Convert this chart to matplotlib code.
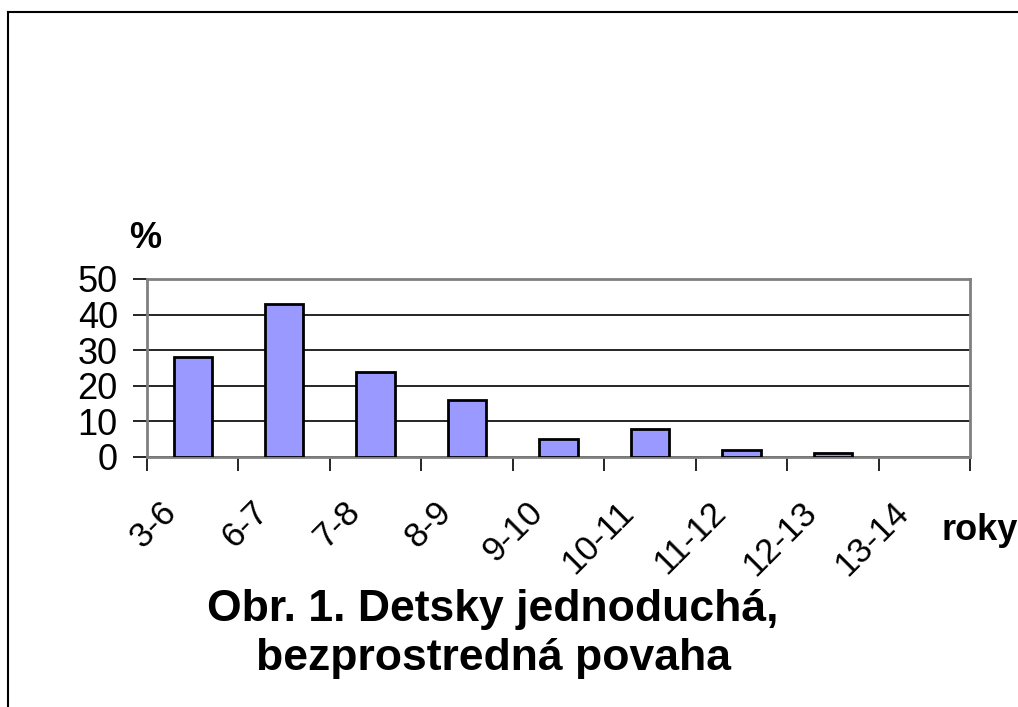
import matplotlib
matplotlib.use('Agg')
import matplotlib.pyplot as plt
import matplotlib.transforms as mtransforms
from matplotlib.lines import Line2D

plt.rcParams['font.family'] = ['Liberation Sans', 'DejaVu Sans']

categories = ['3-6', '6-7', '7-8', '8-9', '9-10', '10-11', '11-12', '12-13', '13-14']
values = [28, 43, 24, 16, 5, 8, 2, 1, 0]
yticks = [0, 10, 20, 30, 40, 50]

fig = plt.figure(figsize=(10.18, 7.07), dpi=100)
ax = fig.add_axes([147 / 1018, 1 - 457 / 707, (970 - 147) / 1018, (457 - 279) / 707])

x = list(range(len(categories)))
# zero-valued bars draw nothing, as in the original
edge_w = [2 if v > 0 else 0 for v in values]
ax.bar(x, values, width=0.42, color='#9999FF', edgecolor='black', linewidth=edge_w, zorder=3)

ax.set_xlim(-0.5, len(categories) - 0.5)
ax.set_ylim(0, 50)
ax.set_yticks(yticks)
ax.set_yticklabels([str(v) for v in yticks], fontsize=26)
ax.yaxis.grid(True, color='black', linewidth=1.2, zorder=1)

# boundary ticks, labels sit on minor ticks at category centres
ax.set_xticks([i - 0.5 for i in range(len(categories) + 1)])
ax.set_xticklabels([])
ax.set_xticks(x, minor=True)
ax.set_xticklabels(categories, minor=True, fontsize=25, rotation=45,
                   ha='right', va='center', rotation_mode='anchor')
ax.tick_params(axis='x', which='major', length=10, width=1.2, color='black', direction='out')
ax.tick_params(axis='x', which='minor', length=0, pad=36)
ax.tick_params(axis='y', length=10, width=1.2, color='black', direction='out', pad=11)

offset = mtransforms.ScaledTranslation(-0.21, 0, fig.dpi_scale_trans)
for lab in ax.get_xticklabels(minor=True):
    lab.set_transform(lab.get_transform() + offset)

for side in ['left', 'right', 'top', 'bottom']:
    ax.spines[side].set_color('#808080')
    ax.spines[side].set_linewidth(2)

fig.text(145 / 1018, 1 - 239 / 707, '%', fontsize=26, fontweight='bold', ha='center', va='center')
fig.text(942 / 1018, 1 - 530 / 707, 'roky', fontsize=26, fontweight='bold', ha='left', va='center')
fig.text(493 / 1018, 1 - 634 / 707, 'Obr. 1. Detsky jednoduchá,\nbezprostredná povaha',
         fontsize=32, fontweight='bold', ha='center', va='center', linespacing=1.25)

# outer frame of the figure box
fig.add_artist(Line2D([8 / 1018, 8 / 1018], [0, 1 - 12 / 707], color='black', linewidth=1.5))
fig.add_artist(Line2D([8 / 1018, 1], [1 - 12 / 707, 1 - 12 / 707], color='black', linewidth=1.5))

fig.savefig('out.png', dpi=100, facecolor='white')
